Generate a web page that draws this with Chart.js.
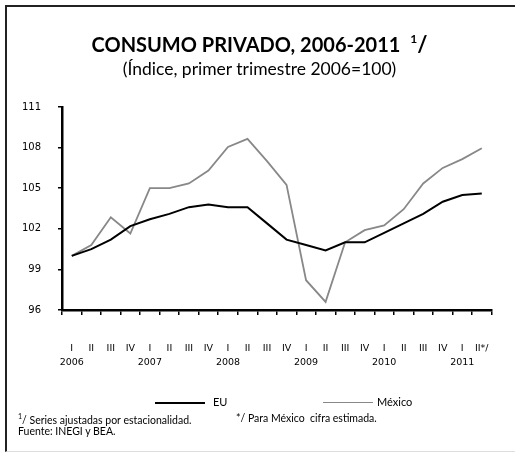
<!DOCTYPE html>
<html>
<head>
<meta charset="utf-8">
<script src="https://cdn.jsdelivr.net/npm/chart.js@4.4.1/dist/chart.umd.min.js"></script>
<style>
  html, body { margin: 0; padding: 0; background: #fff; }
  #page { position: relative; width: 515px; height: 455px; overflow: hidden; font-family: Lato, "Open Sans", sans-serif; color: #000; }
  #frame { position: absolute; left: 5px; top: 5px; width: 510px; height: 447px; border-top: 2px solid #222; border-left: 2px solid #222; border-bottom: 1px solid #ddd; box-sizing: border-box; }
  #chart-box { position: absolute; left: 0; top: 0; width: 515px; height: 455px; }
  .title { position: absolute; left: 0; width: 515px; text-align: center; white-space: nowrap; }
  #title { top: 30px; font-size: 20px; font-weight: bold; left: 2px; }
  #title sup { font-size: 12px; position: relative; top: -1px; margin-left: 5px; }
  #title .slash { font-size: 22px; }
  #subtitle { top: 58px; font-size: 17.5px; left: 2px; }
  .legend { position: absolute; top: 395px; font-size: 11px; }
  .legend .line { position: absolute; top: 7px; width: 50px; height: 0; }
  .note { position: absolute; font-size: 10.5px; white-space: nowrap; }
  .note sup { font-size: 7px; }
</style>
</head>
<body>
<div id="page">
  <div id="frame"></div>
  <div id="chart-box"><canvas id="consumoChart"></canvas></div>
  <div class="title" id="title">CONSUMO PRIVADO, 2006-2011 <sup>1</sup><span class="slash">/</span></div>
  <div class="title" id="subtitle">(Índice, primer trimestre 2006=100)</div>

  <div class="legend" style="left:155px;"><div class="line" style="left:0; border-top:2px solid #000;"></div><span style="position:absolute; left:58px; top:0;">EU</span></div>
  <div class="legend" style="left:323px;"><div class="line" style="left:0; border-top:1.5px solid #888;"></div><span style="position:absolute; left:54px; top:0;">México</span></div>

  <div class="note" style="left:18px; top:412px;"><sup>1</sup>/ Series ajustadas por estacionalidad.</div>
  <div class="note" style="left:236px; top:412px;">*/ Para México&nbsp; cifra estimada.</div>
  <div class="note" style="left:18px; top:425px;">Fuente: INEGI y BEA.</div>
</div>

<script>
// --- データ ---
const quarters = ['I', 'II', 'III', 'IV', 'I', 'II', 'III', 'IV', 'I', 'II', 'III', 'IV',
                  'I', 'II', 'III', 'IV', 'I', 'II', 'III', 'IV', 'I', 'II*/'];
const years = ['2006', '', '', '', '2007', '', '', '', '2008', '', '', '',
               '2009', '', '', '', '2010', '', '', '', '2011', ''];

const euValues = [100.0, 100.5, 101.2, 102.2, 102.7, 103.1, 103.6, 103.8, 103.6, 103.6, 102.4, 101.2,
                  100.8, 100.4, 101.0, 101.0, 101.7, 102.4, 103.1, 104.0, 104.5, 104.6];
const mexicoValues = [100.0, 100.8, 102.85, 101.65, 105.0, 105.0, 105.35, 106.3, 108.05, 108.65, 107.0, 105.25,
                      98.2, 96.6, 101.0, 101.9, 102.25, 103.45, 105.35, 106.5, 107.15, 107.95];

const yTicks = [96, 99, 102, 105, 108, 111];

// --- グラフ ---
const labels = quarters.map((q, i) => [q, years[i]]);
const ctx = document.getElementById('consumoChart').getContext('2d');

new Chart(ctx, {
    type: 'line',
    data: {
        labels: labels,
        datasets: [
            { label: 'EU', data: euValues, borderColor: '#000', borderWidth: 2, pointRadius: 0, tension: 0, fill: false },
            { label: 'México', data: mexicoValues, borderColor: '#888', borderWidth: 1.8, pointRadius: 0, tension: 0, fill: false }
        ]
    },
    options: {
        responsive: true,
        maintainAspectRatio: false,
        animation: false,
        layout: { padding: { left: 10, top: 107, right: 19, bottom: 80 } },
        plugins: {
            legend: { display: false },
            title: { display: false },
            tooltip: { enabled: false }
        },
        scales: {
            x: {
                type: 'category',
                offset: true,
                grid: { display: true, drawOnChartArea: false, offset: true, tickLength: 5, color: '#000', lineWidth: 1.5 },
                border: { display: true, color: '#000', width: 2.5 },
                ticks: {
                    autoSkip: false, maxRotation: 0, minRotation: 0, padding: 26, color: '#000',
                    font: { family: 'DejaVu Sans', size: 9.5, lineHeight: 1.5 }
                },
                afterFit: (scale) => { scale.height = 65; }
            },
            y: {
                min: 96,
                max: 111,
                afterBuildTicks: (scale) => { scale.ticks = yTicks.map(v => ({ value: v })); },
                grid: { display: true, drawOnChartArea: false, tickLength: 4, color: '#000', lineWidth: 1.5 },
                border: { display: true, color: '#000', width: 2.5 },
                ticks: { padding: 17, color: '#000', font: { family: 'DejaVu Sans', size: 10 } },
                afterFit: (scale) => { scale.width = 52; }
            }
        }
    }
});
</script>
</body>
</html>
